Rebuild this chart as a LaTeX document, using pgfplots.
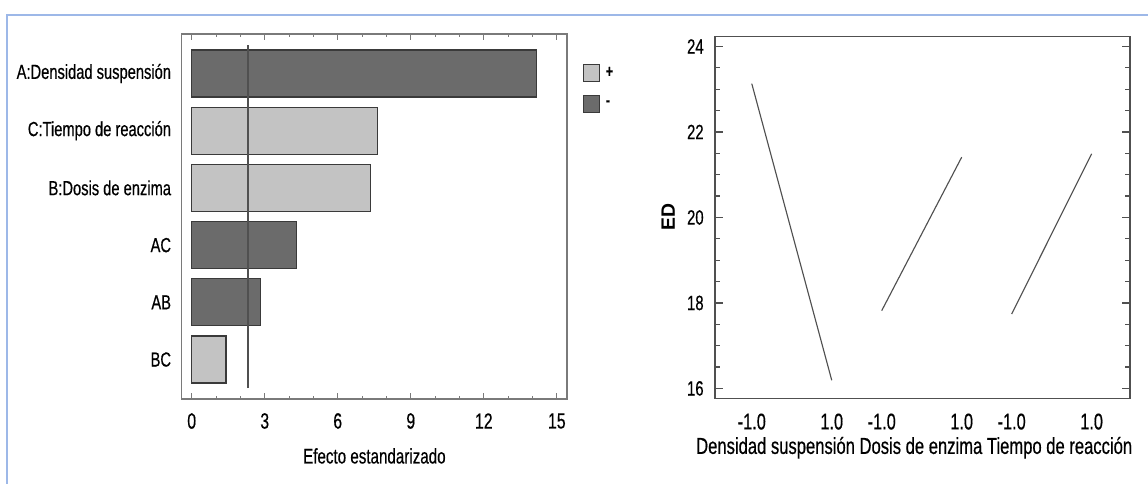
\documentclass[border=0pt]{standalone}
\usepackage{pgfplots}
\pgfplotsset{compat=1.18}
\usepackage{fontspec}
\setmainfont{Liberation Sans}[FakeStretch=0.72, FakeBold=0.5]
\newfontfamily\edfont{Liberation Sans}

\definecolor{darkbar}{HTML}{6B6B6B}
\definecolor{lightbar}{HTML}{C3C3C3}
\definecolor{baredge}{HTML}{3A3A3A}
\definecolor{framegray}{HTML}{7A7A7A}
\definecolor{bluefr}{HTML}{9DB8E8}
\definecolor{linegray}{HTML}{505050}

\begin{document}
\begin{tikzpicture}
\useasboundingbox (0pt,0pt) rectangle (861pt,363pt);
\draw[bluefr, line width=1.5pt] (5.25pt,0pt) -- (5.25pt,351.75pt) -- (861pt,351.75pt);

\begin{axis}[
  at={(136.3pt,63.75pt)}, anchor=south west,
  scale only axis, width=289pt, height=273.75pt,
  xmin=-0.41, xmax=15.42, ymin=-0.69, ymax=5.69,
  xtick={0,3,...,15}, minor x tick num=2, tick align=inside,
  ytick={0,...,5},
  yticklabels={BC,AB,AC,B:Dosis de enzima,C:Tiempo de reacción,A:Densidad suspensión},
  y tick style={draw=none},
  x tick style={framegray, line width=0.8pt},
  major tick length=4.5pt, minor tick length=2.2pt,
  axis line style={framegray, line width=0.9pt},
  /pgf/number format/assume math mode=true,
  xticklabel style={font=\fontsize{16.5}{18}\selectfont, anchor=center, yshift=-16.5pt},
  yticklabel style={font=\fontsize{15.3}{17}\selectfont, anchor=east, xshift=-4.5pt},
  xlabel={Efecto estandarizado},
  xlabel style={font=\fontsize{15.8}{18}\selectfont, at={(axis description cs:0.5,-0.156)}, anchor=center},
  legend style={at={(axis description cs:1.0415,0.918)}, anchor=north west, draw=none, fill=none,
    font=\fontsize{13}{14}\selectfont\bfseries, row sep=10pt, inner sep=0pt},
  legend cell align=left,
  legend image code/.code={\draw[#1,line width=0.7pt] (0pt,-6.3pt) rectangle (12pt,6.3pt);},
]
\addplot[xbar, bar width=0.82, bar shift=0pt, fill=lightbar, draw=baredge, line width=0.9pt]
  coordinates {(7.62,4) (7.36,3) (1.41,0)};
\addplot[xbar, bar width=0.82, bar shift=0pt, fill=darkbar, draw=baredge, line width=0.9pt]
  coordinates {(14.18,5) (4.32,2) (2.84,1)};
\addplot[linegray, line width=1pt, forget plot] coordinates {(2.306,-0.5) (2.306,5.5)};
\legend{\,+,\,-}
\end{axis}

\begin{axis}[
  at={(536.25pt,64.3pt)}, anchor=south west,
  scale only axis, width=311.25pt, height=271.2pt,
  xmin=-1.92, xmax=8.46, ymin=15.77, ymax=24.23,
  xtick={-1,1,2.25,4.25,5.5,7.5},
  xticklabels={-1.0,1.0,-1.0,1.0,-1.0,1.0},
  x tick style={draw=none},
  ytick={16,18,...,24}, minor y tick num=3, tick align=inside,
  y tick style={linegray, line width=0.9pt},
  major tick length=6pt, minor tick length=3.75pt,
  axis line style={linegray, line width=0.9pt},
  /pgf/number format/assume math mode=true,
  xticklabel style={font=\fontsize{17}{18}\selectfont, anchor=center, yshift=-17.5pt},
  yticklabel style={font=\fontsize{15.5}{17}\selectfont, anchor=east, xshift=-5pt},
  xlabel={Densidad suspensión Dosis de enzima Tiempo de reacción},
  xlabel style={font=\fontsize{17.3}{18}\selectfont, at={(axis description cs:0.48,-0.137)}, anchor=center},
  ylabel={\edfont\bfseries ED},
  ylabel style={font=\fontsize{14.5}{16}\selectfont, at={(axis description cs:-0.113,0.5)}, anchor=center, rotate=0},
]
\addplot[linegray, line width=0.85pt] coordinates {(-1,23.13) (1,16.19)};
\addplot[linegray, line width=0.85pt] coordinates {(2.25,17.82) (4.25,21.41)};
\addplot[linegray, line width=0.85pt] coordinates {(5.5,17.74) (7.5,21.49)};
\end{axis}
\end{tikzpicture}
\end{document}
